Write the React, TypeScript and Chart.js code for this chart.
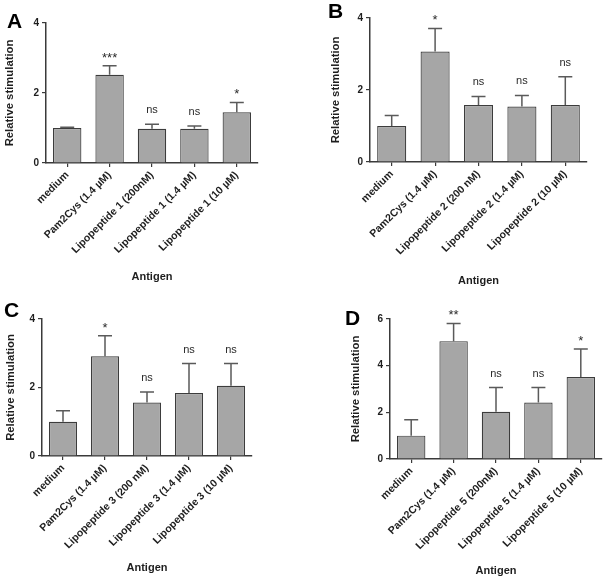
import React, { useEffect, useRef } from "react";
import { Chart, registerables } from "chart.js";

Chart.register(...registerables);

// ---------------- DATA ----------------
const categoriesA = ["medium", "Pam2Cys (1.4 µM)", "Lipopeptide 1 (200nM)", "Lipopeptide 1 (1.4 µM)", "Lipopeptide 1 (10 µM)"];
const meansA = [1.0, 2.52, 0.98, 0.98, 1.45];
const errorsA = [0.02, 0.26, 0.13, 0.08, 0.28];
const signifA = ["", "***", "ns", "ns", "*"];

const categoriesB = ["medium", "Pam2Cys (1.4 µM)", "Lipopeptide 2 (200 nM)", "Lipopeptide 2 (1.4 µM)", "Lipopeptide 2 (10 µM)"];
const meansB = [1.0, 3.07, 1.58, 1.54, 1.58];
const errorsB = [0.29, 0.64, 0.24, 0.31, 0.79];
const signifB = ["", "*", "ns", "ns", "ns"];

const categoriesC = ["medium", "Pam2Cys (1.4 µM)", "Lipopeptide 3 (200 nM)", "Lipopeptide 3 (1.4 µM)", "Lipopeptide 3 (10 µM)"];
const meansC = [1.0, 2.91, 1.56, 1.84, 2.05];
const errorsC = [0.32, 0.6, 0.31, 0.86, 0.65];
const signifC = ["", "*", "ns", "ns", "ns"];

const categoriesD = ["medium", "Pam2Cys (1.4 µM)", "Lipopeptide 5 (200nM)", "Lipopeptide 5 (1.4 µM)", "Lipopeptide 5 (10 µM)"];
const meansD = [1.0, 5.05, 2.02, 2.42, 3.51];
const errorsD = [0.68, 0.76, 1.04, 0.64, 1.2];
const signifD = ["", "**", "ns", "ns", "*"];

const yTicksABC = [0, 2, 4];
const yTicksD = [0, 2, 4, 6];

const yTitle = "Relative stimulation";
const xTitle = "Antigen";

// ---------------- STYLE / LAYOUT ----------------
const FONT = "'Liberation Sans', Arial, Helvetica, sans-serif";
const BAR_FILL = "#a6a6a6";
const BAR_BORDER = "#3c3c3c";
const AXIS = "#3a3a3a";
const ERR = "#5a5a5a";
const TEXT = "#1e1e1e";

type Layout = {
  left: number; top: number; w: number; h: number;
  padL: number; padT: number; padR: number; padB: number;
  yW: number; xH: number;
  letterX: number; letterY: number;
};

const layoutA: Layout = { left: 0, top: 0, w: 300, h: 290, padL: 3, padT: 23, padR: 42, padB: 6, yW: 43, xH: 121, letterX: 7, letterY: 28 };
const layoutB: Layout = { left: 300, top: 0, w: 303, h: 290, padL: 29, padT: 18, padR: 16, padB: 2, yW: 41, xH: 126, letterX: 28, letterY: 18 };
const layoutC: Layout = { left: 0, top: 290, w: 300, h: 289, padL: 4, padT: 29, padR: 48, padB: 4, yW: 38, xH: 119, letterX: 4, letterY: 27 };
const layoutD: Layout = { left: 300, top: 290, w: 303, h: 289, padL: 49, padT: 29, padR: 1, padB: 1, yW: 41, xH: 119, letterX: 45, letterY: 35 };

type PanelProps = {
  letter: string;
  categories: string[];
  means: number[];
  errors: number[];
  signif: string[];
  yTicks: number[];
  layout: Layout;
};

const annotPlugin = {
  id: "annot",
  afterDatasetsDraw(chart: any, _args: any, opts: any) {
    const { ctx } = chart;
    const y = chart.scales.y;
    const meta = chart.getDatasetMeta(0);
    ctx.save();
    meta.data.forEach((bar: any, i: number) => {
      const m = opts.means[i];
      const e = opts.errors[i];
      const yTop = y.getPixelForValue(m);
      const yErr = y.getPixelForValue(m + e);
      const x = bar.x;
      ctx.strokeStyle = ERR;
      ctx.lineWidth = 1.5;
      ctx.beginPath();
      ctx.moveTo(x, yTop);
      ctx.lineTo(x, yErr);
      ctx.moveTo(x - 7, yErr);
      ctx.lineTo(x + 7, yErr);
      ctx.stroke();
      const s = opts.signif[i];
      if (s) {
        ctx.fillStyle = "#2a2a2a";
        ctx.textAlign = "center";
        ctx.textBaseline = "alphabetic";
        if (s === "ns") {
          ctx.font = `11px ${FONT}`;
          ctx.fillText(s, x, yErr - 11);
        } else {
          ctx.font = `13px ${FONT}`;
          ctx.fillText(s, x, yErr - 4);
        }
      }
    });
    ctx.restore();
  },
  afterDraw(chart: any, _args: any, opts: any) {
    const { ctx } = chart;
    ctx.save();
    ctx.fillStyle = "#000";
    ctx.font = `bold 21px ${FONT}`;
    ctx.textAlign = "left";
    ctx.textBaseline = "alphabetic";
    ctx.fillText(opts.letter, opts.letterX, opts.letterY);
    ctx.restore();
  },
};

function Panel({ letter, categories, means, errors, signif, yTicks, layout }: PanelProps) {
  const ref = useRef<HTMLCanvasElement | null>(null);
  useEffect(() => {
    if (!ref.current) return;
    const yMax = yTicks[yTicks.length - 1];
    const chart = new Chart(ref.current, {
      type: "bar",
      data: {
        labels: categories,
        datasets: [
          {
            data: means,
            backgroundColor: BAR_FILL,
            borderColor: BAR_BORDER,
            borderWidth: 1.2,
            categoryPercentage: 1,
            barPercentage: 0.67,
          },
        ],
      },
      options: {
        responsive: false,
        animation: false,
        devicePixelRatio: 1,
        layout: { padding: { left: layout.padL, top: layout.padT, right: layout.padR, bottom: layout.padB } },
        plugins: {
          legend: { display: false },
          tooltip: { enabled: false },
          annot: { means, errors, signif, letter, letterX: layout.letterX, letterY: layout.letterY },
        } as any,
        scales: {
          x: {
            grid: { display: true, drawOnChartArea: false, drawTicks: true, tickLength: 4, offset: false, color: AXIS, lineWidth: 1.2 },
            border: { display: true, color: AXIS, width: 1.5 },
            ticks: {
              autoSkip: false,
              maxRotation: 45,
              minRotation: 45,
              color: TEXT,
              padding: 2,
              font: { family: FONT, size: 10.5, weight: "bold" },
            },
            title: {
              display: true,
              text: xTitle,
              color: TEXT,
              padding: { top: 0, bottom: 0 },
              font: { family: FONT, size: 11, weight: "bold" },
            },
            afterFit: (s: any) => {
              s.height = layout.xH;
            },
          },
          y: {
            min: 0,
            max: yMax,
            afterBuildTicks: (s: any) => {
              s.ticks = yTicks.map((v) => ({ value: v }));
            },
            grid: { display: true, drawOnChartArea: false, drawTicks: true, tickLength: 4, color: AXIS, lineWidth: 1.2 },
            border: { display: true, color: AXIS, width: 1.5 },
            ticks: {
              color: TEXT,
              padding: 3,
              font: { family: FONT, size: 10, weight: "bold" },
            },
            title: {
              display: true,
              text: yTitle,
              color: TEXT,
              padding: { top: 0, bottom: 0 },
              font: { family: FONT, size: 11.3, weight: "bold" },
            },
            afterFit: (s: any) => {
              s.width = layout.yW;
            },
          },
        },
      } as any,
      plugins: [annotPlugin],
    });
    return () => chart.destroy();
  }, []);
  return (
    <canvas
      ref={ref}
      width={layout.w}
      height={layout.h}
      style={{ position: "absolute", left: layout.left, top: layout.top, width: layout.w, height: layout.h }}
    />
  );
}

export default function App() {
  return (
    <div style={{ position: "absolute", left: 0, top: 0, width: 603, height: 579, background: "#fff", overflow: "hidden" }}>
      <Panel letter="A" categories={categoriesA} means={meansA} errors={errorsA} signif={signifA} yTicks={yTicksABC} layout={layoutA} />
      <Panel letter="B" categories={categoriesB} means={meansB} errors={errorsB} signif={signifB} yTicks={yTicksABC} layout={layoutB} />
      <Panel letter="C" categories={categoriesC} means={meansC} errors={errorsC} signif={signifC} yTicks={yTicksABC} layout={layoutC} />
      <Panel letter="D" categories={categoriesD} means={meansD} errors={errorsD} signif={signifD} yTicks={yTicksD} layout={layoutD} />
    </div>
  );
}
